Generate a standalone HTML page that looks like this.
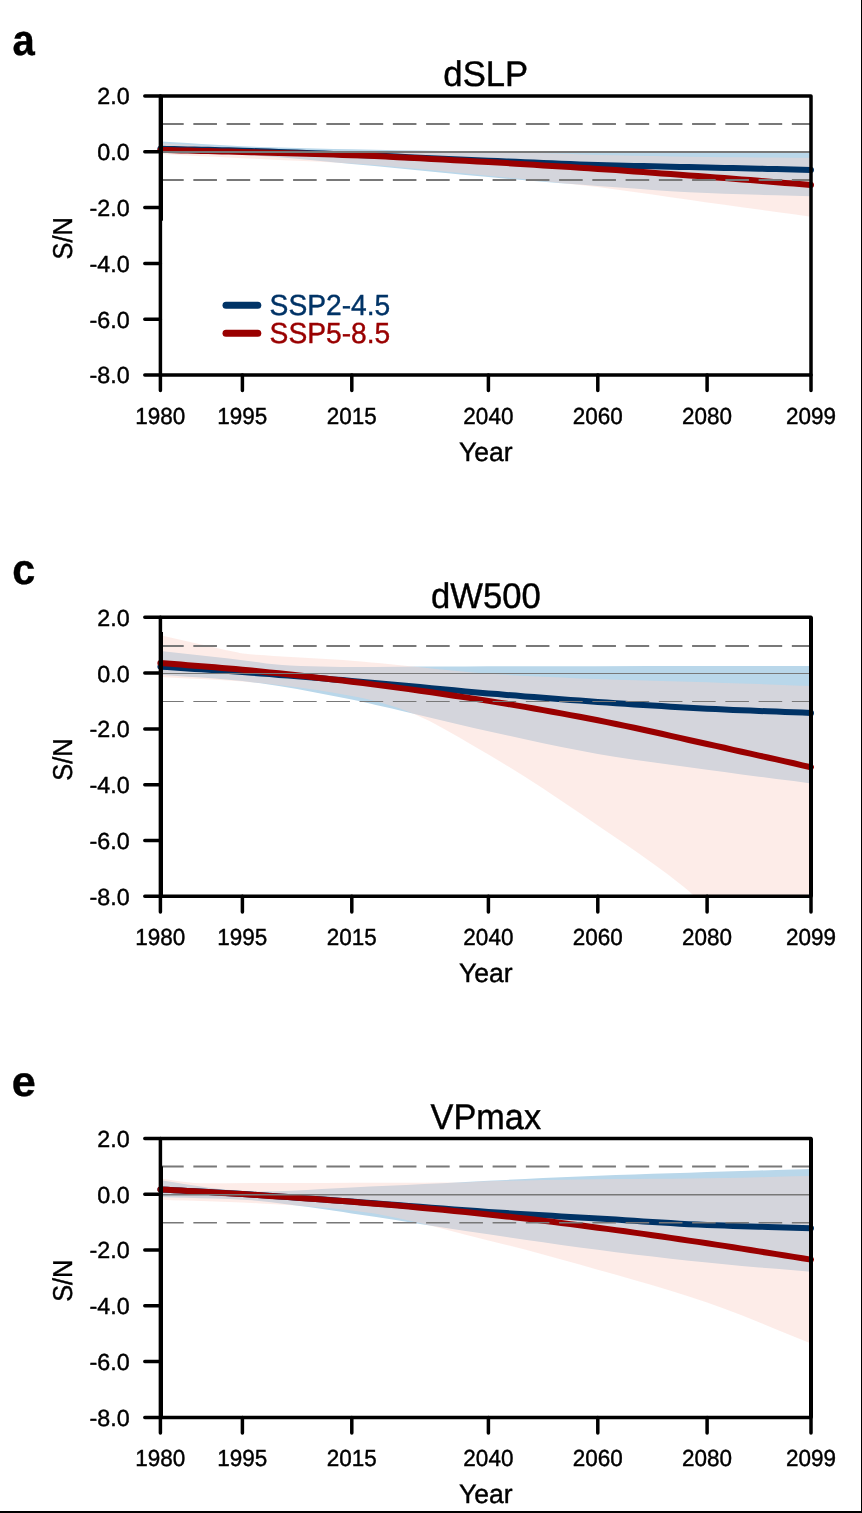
<!DOCTYPE html>
<html lang="en"><head><meta charset="utf-8"><title>S/N time series</title>
<style>
html,body{margin:0;padding:0;background:#fff;}
body{width:862px;height:1513px;overflow:hidden;}
svg{display:block;font-family:"Liberation Sans",sans-serif;will-change:transform;text-rendering:geometricPrecision;}
text{fill:#000;stroke:#000;stroke-width:0.4px;}
</style></head><body>
<svg width="862" height="1513" viewBox="0 0 862 1513">
<rect x="0" y="0" width="862" height="1513" fill="#fff"/>
<g id="panel-a">
<clipPath id="clip0"><rect x="160.4" y="96.0" width="650.6" height="279.0"/></clipPath>
<g clip-path="url(#clip0)">
<polygon points="160.4,141.4 174.1,142.2 187.7,143.1 201.4,144.0 215.1,144.8 228.7,145.6 242.4,146.2 260.6,146.9 278.8,147.5 297.1,148.0 315.3,148.5 333.5,148.9 351.7,149.3 374.5,149.8 397.3,150.2 420.0,150.6 442.8,150.9 465.6,151.2 488.4,151.3 542.2,151.4 595.9,151.5 649.7,151.5 703.5,151.5 757.2,151.6 811.0,151.6 811.0,196.2 793.7,195.7 776.4,195.3 759.0,194.8 741.7,194.3 724.4,193.8 707.1,193.1 688.9,192.2 670.7,191.2 652.5,189.9 634.2,188.6 616.0,187.2 597.8,185.9 579.6,184.6 561.3,183.2 543.1,181.7 524.9,180.2 506.6,178.7 488.4,177.1 465.6,175.0 442.8,172.8 420.0,170.5 397.3,168.2 374.5,166.0 351.7,163.9 333.5,162.2 315.3,160.5 297.1,158.7 278.8,157.2 260.6,155.9 242.4,155.0 228.7,154.6 215.1,154.2 201.4,153.9 187.7,153.6 174.1,153.3 160.4,153.0" fill="#b9d7ea"/>
<polygon points="160.4,143.0 174.1,143.9 187.7,144.8 201.4,145.7 215.1,146.6 228.7,147.4 242.4,148.0 260.6,148.7 278.8,149.3 297.1,149.8 315.3,150.3 333.5,150.7 351.7,151.0 374.5,151.3 397.3,151.5 420.0,151.6 442.8,151.8 465.6,152.0 488.4,152.2 497.8,152.3 507.3,152.5 516.7,152.6 526.1,152.8 535.6,153.0 545.0,153.2 553.8,153.4 562.6,153.7 571.4,154.0 580.2,154.4 589.0,154.7 597.8,154.9 616.0,155.3 634.2,155.8 652.5,156.1 670.7,156.5 688.9,156.8 707.1,157.0 724.4,157.2 741.7,157.3 759.0,157.5 776.4,157.6 793.7,157.7 811.0,157.8 811.0,216.7 793.7,214.3 776.4,211.9 759.0,209.6 741.7,207.2 724.4,204.8 707.1,202.4 688.9,199.8 670.7,197.2 652.5,194.5 634.2,191.9 616.0,189.4 597.8,187.1 579.6,185.0 561.3,183.0 543.1,181.1 524.9,179.3 506.6,177.5 488.4,175.7 465.6,173.5 442.8,171.2 420.0,169.0 397.3,166.9 374.5,165.1 351.7,163.5 333.5,162.4 315.3,161.5 297.1,160.7 278.8,159.9 260.6,159.1 242.4,158.2 228.7,157.5 215.1,156.8 201.4,156.2 187.7,155.5 174.1,154.8 160.4,154.1" fill="rgba(250,210,200,0.42)"/>
</g>
<polyline points="160.4,148.8 167.2,148.9 174.1,149.1 180.9,149.2 187.7,149.4 194.6,149.5 201.4,149.7 208.2,149.8 215.1,150.0 221.9,150.2 228.7,150.3 235.6,150.5 242.4,150.7 251.5,151.0 260.6,151.3 269.7,151.6 278.8,151.9 287.9,152.2 297.1,152.5 306.2,152.9 315.3,153.2 324.4,153.6 333.5,154.0 342.6,154.3 351.7,154.7 363.1,155.2 374.5,155.6 385.9,156.1 397.3,156.6 408.7,157.2 420.0,157.7 431.4,158.2 442.8,158.7 454.2,159.2 465.6,159.7 477.0,160.2 488.4,160.7 497.5,161.1 506.6,161.5 515.8,161.8 524.9,162.2 534.0,162.6 543.1,163.0 552.2,163.3 561.3,163.7 570.4,164.0 579.6,164.4 588.7,164.7 597.8,164.9 606.9,165.2 616.0,165.5 625.1,165.7 634.2,165.9 643.3,166.1 652.5,166.3 661.6,166.5 670.7,166.7 679.8,166.9 688.9,167.1 698.0,167.3 707.1,167.6 715.8,167.7 724.4,167.9 733.1,168.1 741.7,168.3 750.4,168.5 759.0,168.7 767.7,168.9 776.4,169.1 785.0,169.3 793.7,169.5 802.3,169.7 811.0,169.9" fill="none" stroke="#003366" stroke-width="6.0" stroke-linecap="round" stroke-linejoin="round"/>
<polyline points="160.4,149.9 167.2,150.1 174.1,150.3 180.9,150.5 187.7,150.6 194.6,150.8 201.4,151.0 208.2,151.1 215.1,151.3 221.9,151.5 228.7,151.6 235.6,151.8 242.4,152.0 251.5,152.2 260.6,152.5 269.7,152.7 278.8,153.0 287.9,153.2 297.1,153.5 306.2,153.7 315.3,154.0 324.4,154.3 333.5,154.6 342.6,154.9 351.7,155.2 363.1,155.6 374.5,156.1 385.9,156.6 397.3,157.2 408.7,157.7 420.0,158.3 431.4,158.9 442.8,159.6 454.2,160.2 465.6,160.8 477.0,161.5 488.4,162.1 497.5,162.6 506.6,163.1 515.8,163.7 524.9,164.2 534.0,164.8 543.1,165.4 552.2,165.9 561.3,166.5 570.4,167.1 579.6,167.7 588.7,168.3 597.8,168.9 606.9,169.5 616.0,170.1 625.1,170.8 634.2,171.4 643.3,172.1 652.5,172.7 661.6,173.4 670.7,174.1 679.8,174.8 688.9,175.4 698.0,176.1 707.1,176.8 715.8,177.5 724.4,178.1 733.1,178.8 741.7,179.5 750.4,180.1 759.0,180.8 767.7,181.5 776.4,182.2 785.0,182.9 793.7,183.5 802.3,184.2 811.0,184.9" fill="none" stroke="#990000" stroke-width="6.0" stroke-linecap="round" stroke-linejoin="round"/>
<line x1="160.4" x2="811.0" y1="152.0" y2="152.0" stroke="#787878" stroke-width="2.0"/>
<line x1="160.4" x2="811.0" y1="124.0" y2="124.0" stroke="#787878" stroke-width="2.0" stroke-dasharray="23.6 9.65" stroke-dashoffset="0.3"/>
<line x1="160.4" x2="811.0" y1="180.0" y2="180.0" stroke="#787878" stroke-width="2.0" stroke-dasharray="23.6 9.65" stroke-dashoffset="0.3"/>
<rect x="160.4" y="96.0" width="650.6" height="279.0" fill="none" stroke="#000" stroke-width="3.5" stroke-linejoin="round"/>
<line x1="161.6" x2="161.6" y1="96.0" y2="220.7" stroke="#000" stroke-width="2.8"/>
<path d="M160.4 96.0H144.8M160.4 151.8H144.8M160.4 207.6H144.8M160.4 263.4H144.8M160.4 319.2H144.8M160.4 375.0H144.8M160.4 375.0V390.6M242.4 375.0V390.6M351.8 375.0V390.6M488.4 375.0V390.6M597.8 375.0V390.6M707.1 375.0V390.6M811.0 375.0V390.6" fill="none" stroke="#000" stroke-width="3.5" stroke-linecap="round"/>
<text transform="translate(129.70 104.45) scale(1.035 1.03)" font-size="22.5" text-anchor="end">2.0</text>
<text transform="translate(129.70 160.25) scale(1.035 1.03)" font-size="22.5" text-anchor="end">0.0</text>
<text transform="translate(129.70 216.05) scale(1.035 1.03)" font-size="22.5" text-anchor="end">-2.0</text>
<text transform="translate(129.70 271.85) scale(1.035 1.03)" font-size="22.5" text-anchor="end">-4.0</text>
<text transform="translate(129.70 327.65) scale(1.035 1.03)" font-size="22.5" text-anchor="end">-6.0</text>
<text transform="translate(129.70 383.45) scale(1.035 1.03)" font-size="22.5" text-anchor="end">-8.0</text>
<text transform="translate(160.35 423.55) scale(1.0 1.03)" font-size="22.5" text-anchor="middle">1980</text>
<text transform="translate(242.36 423.55) scale(1.0 1.03)" font-size="22.5" text-anchor="middle">1995</text>
<text transform="translate(351.70 423.55) scale(1.0 1.03)" font-size="22.5" text-anchor="middle">2015</text>
<text transform="translate(488.38 423.55) scale(1.0 1.03)" font-size="22.5" text-anchor="middle">2040</text>
<text transform="translate(597.73 423.55) scale(1.0 1.03)" font-size="22.5" text-anchor="middle">2060</text>
<text transform="translate(707.07 423.55) scale(1.0 1.03)" font-size="22.5" text-anchor="middle">2080</text>
<text transform="translate(810.95 423.55) scale(1.0 1.03)" font-size="22.5" text-anchor="middle">2099</text>
<text transform="translate(485.80 460.70) scale(1.02 1.02)" font-size="26" text-anchor="middle">Year</text>
<text transform="translate(72.10 238.30) rotate(-90) scale(0.975 1.05)" font-size="26" text-anchor="middle">S/N</text>
<text transform="translate(485.80 86.00) scale(1.02 1.048)" font-size="34" text-anchor="middle">dSLP</text>
<text transform="translate(12.40 54.60) scale(0.91 0.98)" font-size="44" text-anchor="start" font-weight="bold">a</text>
</g>
<g id="panel-c">
<clipPath id="clip1"><rect x="160.4" y="617.3" width="650.6" height="279.0"/></clipPath>
<g clip-path="url(#clip1)">
<polygon points="160.4,650.9 174.1,652.4 187.7,654.0 201.4,655.5 215.1,657.1 228.7,658.6 242.4,660.2 250.3,661.2 258.3,662.3 266.2,663.4 274.1,664.3 282.1,665.1 290.0,665.6 300.3,666.0 310.6,666.3 320.9,666.5 331.1,666.7 341.4,666.9 351.7,666.9 374.5,666.9 397.3,666.8 420.0,666.6 442.8,666.5 465.6,666.4 488.4,666.3 542.2,666.2 595.9,666.2 649.7,666.1 703.5,666.1 757.2,666.0 811.0,666.0 811.0,783.4 793.7,781.1 776.4,778.9 759.0,776.7 741.7,774.4 724.4,772.1 707.1,769.8 688.9,767.3 670.7,764.8 652.5,762.3 634.2,759.7 616.0,756.9 597.8,753.9 579.6,750.6 561.3,747.1 543.1,743.3 524.9,739.3 506.6,735.3 488.4,731.3 473.7,728.0 458.9,724.5 444.2,721.0 429.5,717.5 414.7,713.9 400.0,710.5 391.9,708.6 383.9,706.7 375.9,704.9 367.8,703.0 359.8,701.3 351.7,699.6 333.5,696.0 315.3,692.4 297.1,689.0 278.8,685.9 260.6,683.2 242.4,681.0 228.7,679.7 215.1,678.6 201.4,677.6 187.7,676.7 174.1,675.8 160.4,674.8" fill="#b9d7ea"/>
<polygon points="160.4,635.3 167.0,636.8 173.6,638.3 180.2,639.8 186.8,641.2 193.4,642.7 200.0,644.2 206.3,645.6 212.7,647.1 219.0,648.5 225.3,650.0 231.7,651.3 238.0,652.6 238.7,652.7 239.5,652.9 240.2,653.0 240.9,653.2 241.7,653.3 242.4,653.4 243.2,653.5 243.9,653.6 244.7,653.7 245.5,653.8 246.2,653.8 247.0,653.9 255.8,654.7 264.7,655.3 273.5,655.9 282.3,656.5 291.2,657.0 300.0,657.6 308.6,658.1 317.2,658.6 325.9,659.1 334.5,659.6 343.1,660.1 351.7,660.7 361.4,661.5 371.1,662.4 380.9,663.3 390.6,664.3 400.3,665.3 410.0,666.3 423.1,667.6 436.1,668.9 449.2,670.3 462.3,671.6 475.3,672.7 488.4,673.7 506.6,674.8 524.9,675.9 543.1,676.8 561.3,677.6 579.6,678.4 597.8,679.1 616.0,679.7 634.2,680.3 652.5,680.8 670.7,681.2 688.9,681.7 707.1,682.3 724.4,682.9 741.7,683.5 759.0,684.1 776.4,684.7 793.7,685.4 811.0,686.0 811.0,1000.0 795.8,986.7 780.7,973.5 765.5,960.3 750.3,947.0 735.2,933.6 720.0,920.0 715.3,915.7 710.7,911.3 706.0,906.9 701.3,902.5 696.7,898.2 692.0,894.0 690.3,892.5 688.7,891.1 687.0,889.6 685.3,888.2 683.7,886.8 682.0,885.5 668.0,874.6 653.9,864.3 639.9,854.3 625.9,844.6 611.8,835.0 597.8,825.5 579.6,813.1 561.3,800.8 543.1,788.6 524.9,776.8 506.6,765.4 488.4,754.6 473.7,746.0 458.9,737.3 444.2,728.9 429.5,721.1 414.7,714.2 400.0,708.5 391.9,705.9 383.9,703.5 375.9,701.3 367.8,699.3 359.8,697.5 351.7,695.9 333.5,692.7 315.3,689.8 297.1,687.2 278.8,685.0 260.6,683.1 242.4,681.5 228.7,680.5 215.1,679.7 201.4,679.0 187.7,678.4 174.1,677.7 160.4,677.0" fill="rgba(250,210,200,0.42)"/>
</g>
<polyline points="160.4,666.7 167.2,667.1 174.1,667.6 180.9,668.0 187.7,668.5 194.6,668.9 201.4,669.3 208.2,669.8 215.1,670.2 221.9,670.7 228.7,671.1 235.6,671.6 242.4,672.1 251.5,672.8 260.6,673.4 269.7,674.1 278.8,674.9 287.9,675.6 297.1,676.3 306.2,677.1 315.3,677.8 324.4,678.6 333.5,679.4 342.6,680.1 351.7,680.9 363.1,681.9 374.5,682.9 385.9,683.9 397.3,685.0 408.7,686.1 420.0,687.1 431.4,688.2 442.8,689.3 454.2,690.3 465.6,691.4 477.0,692.4 488.4,693.4 497.5,694.1 506.6,694.9 515.8,695.6 524.9,696.4 534.0,697.1 543.1,697.8 552.2,698.5 561.3,699.2 570.4,699.9 579.6,700.6 588.7,701.3 597.8,701.9 606.9,702.5 616.0,703.2 625.1,703.8 634.2,704.4 643.3,705.0 652.5,705.6 661.6,706.1 670.7,706.7 679.8,707.2 688.9,707.7 698.0,708.2 707.1,708.7 715.8,709.1 724.4,709.5 733.1,709.9 741.7,710.3 750.4,710.6 759.0,711.0 767.7,711.3 776.4,711.6 785.0,712.0 793.7,712.3 802.3,712.6 811.0,713.0" fill="none" stroke="#003366" stroke-width="6.0" stroke-linecap="round" stroke-linejoin="round"/>
<polyline points="160.4,663.0 167.2,663.6 174.1,664.1 180.9,664.6 187.7,665.2 194.6,665.7 201.4,666.2 208.2,666.8 215.1,667.3 221.9,667.9 228.7,668.5 235.6,669.1 242.4,669.7 251.5,670.6 260.6,671.5 269.7,672.4 278.8,673.3 287.9,674.3 297.1,675.3 306.2,676.3 315.3,677.4 324.4,678.4 333.5,679.5 342.6,680.6 351.7,681.7 363.1,683.1 374.5,684.6 385.9,686.0 397.3,687.6 408.7,689.1 420.0,690.7 431.4,692.3 442.8,694.0 454.2,695.7 465.6,697.4 477.0,699.1 488.4,700.9 497.5,702.4 506.6,703.8 515.8,705.4 524.9,706.9 534.0,708.5 543.1,710.1 552.2,711.7 561.3,713.4 570.4,715.1 579.6,716.8 588.7,718.5 597.8,720.3 606.9,722.1 616.0,724.0 625.1,725.9 634.2,727.8 643.3,729.8 652.5,731.8 661.6,733.8 670.7,735.9 679.8,737.9 688.9,740.0 698.0,742.0 707.1,744.0 715.8,745.9 724.4,747.8 733.1,749.8 741.7,751.7 750.4,753.6 759.0,755.6 767.7,757.5 776.4,759.4 785.0,761.4 793.7,763.3 802.3,765.3 811.0,767.2" fill="none" stroke="#990000" stroke-width="6.0" stroke-linecap="round" stroke-linejoin="round"/>
<line x1="160.4" x2="811.0" y1="673.5" y2="673.5" stroke="#787878" stroke-width="1.0"/>
<line x1="160.4" x2="811.0" y1="646.0" y2="646.0" stroke="#787878" stroke-width="2.0" stroke-dasharray="23.6 9.65" stroke-dashoffset="0.3"/>
<line x1="160.4" x2="811.0" y1="701.5" y2="701.5" stroke="#787878" stroke-width="1.0" stroke-dasharray="23.6 9.65" stroke-dashoffset="0.3"/>
<rect x="160.4" y="617.3" width="650.6" height="279.0" fill="none" stroke="#000" stroke-width="3.5" stroke-linejoin="round"/>
<line x1="161.6" x2="161.6" y1="632.0" y2="896.3" stroke="#000" stroke-width="2.8"/>
<line x1="811" x2="811" y1="617.3" y2="896.3" stroke="#000" stroke-width="4"/>
<path d="M160.4 617.3H144.8M160.4 673.1H144.8M160.4 728.9H144.8M160.4 784.7H144.8M160.4 840.5H144.8M160.4 896.3H144.8M160.4 896.3V911.9M242.4 896.3V911.9M351.8 896.3V911.9M488.4 896.3V911.9M597.8 896.3V911.9M707.1 896.3V911.9M811.0 896.3V911.9" fill="none" stroke="#000" stroke-width="3.5" stroke-linecap="round"/>
<text transform="translate(129.70 625.75) scale(1.035 1.03)" font-size="22.5" text-anchor="end">2.0</text>
<text transform="translate(129.70 681.55) scale(1.035 1.03)" font-size="22.5" text-anchor="end">0.0</text>
<text transform="translate(129.70 737.35) scale(1.035 1.03)" font-size="22.5" text-anchor="end">-2.0</text>
<text transform="translate(129.70 793.15) scale(1.035 1.03)" font-size="22.5" text-anchor="end">-4.0</text>
<text transform="translate(129.70 848.95) scale(1.035 1.03)" font-size="22.5" text-anchor="end">-6.0</text>
<text transform="translate(129.70 904.75) scale(1.035 1.03)" font-size="22.5" text-anchor="end">-8.0</text>
<text transform="translate(160.35 944.85) scale(1.0 1.03)" font-size="22.5" text-anchor="middle">1980</text>
<text transform="translate(242.36 944.85) scale(1.0 1.03)" font-size="22.5" text-anchor="middle">1995</text>
<text transform="translate(351.70 944.85) scale(1.0 1.03)" font-size="22.5" text-anchor="middle">2015</text>
<text transform="translate(488.38 944.85) scale(1.0 1.03)" font-size="22.5" text-anchor="middle">2040</text>
<text transform="translate(597.73 944.85) scale(1.0 1.03)" font-size="22.5" text-anchor="middle">2060</text>
<text transform="translate(707.07 944.85) scale(1.0 1.03)" font-size="22.5" text-anchor="middle">2080</text>
<text transform="translate(810.95 944.85) scale(1.0 1.03)" font-size="22.5" text-anchor="middle">2099</text>
<text transform="translate(485.80 982.00) scale(1.02 1.02)" font-size="26" text-anchor="middle">Year</text>
<text transform="translate(72.10 759.60) rotate(-90) scale(0.975 1.05)" font-size="26" text-anchor="middle">S/N</text>
<text transform="translate(485.80 607.70) scale(1.019 1.048)" font-size="34" text-anchor="middle">dW500</text>
<text transform="translate(12.30 584.10) scale(0.94 0.97)" font-size="44" text-anchor="start" font-weight="bold">c</text>
</g>
<g id="panel-e">
<clipPath id="clip2"><rect x="160.4" y="1138.4" width="650.6" height="279.0"/></clipPath>
<g clip-path="url(#clip2)">
<polygon points="160.4,1180.3 172.2,1182.0 183.9,1183.9 195.7,1185.8 207.5,1187.5 219.2,1189.0 231.0,1190.0 236.2,1190.4 241.3,1190.7 246.5,1191.0 251.7,1191.3 256.8,1191.4 262.0,1191.5 276.9,1191.3 291.9,1190.7 306.9,1190.0 321.8,1189.1 336.8,1188.2 351.7,1187.4 369.9,1186.6 388.1,1185.7 406.4,1184.9 424.6,1184.1 442.8,1183.2 461.0,1182.3 465.6,1182.1 470.1,1181.8 474.7,1181.6 479.3,1181.3 483.8,1181.1 488.4,1180.8 506.6,1179.9 524.9,1179.0 543.1,1178.1 561.3,1177.3 579.6,1176.4 597.8,1175.7 616.0,1175.0 634.2,1174.4 652.5,1173.8 670.7,1173.2 688.9,1172.7 707.1,1172.1 724.4,1171.6 741.7,1171.0 759.0,1170.5 776.4,1170.0 793.7,1169.4 811.0,1168.9 811.0,1271.8 793.7,1270.3 776.4,1268.8 759.0,1267.4 741.7,1265.9 724.4,1264.3 707.1,1262.6 688.9,1260.7 670.7,1258.7 652.5,1256.6 634.2,1254.4 616.0,1252.2 597.8,1249.8 579.6,1247.4 561.3,1244.9 543.1,1242.3 524.9,1239.7 506.6,1237.0 488.4,1234.3 465.6,1230.9 442.8,1227.4 420.0,1223.9 397.3,1220.3 374.5,1216.8 351.7,1213.4 343.1,1212.1 334.5,1210.8 325.9,1209.6 317.2,1208.3 308.6,1207.1 300.0,1206.0 290.4,1204.8 280.8,1203.5 271.2,1202.3 261.6,1201.2 252.0,1200.3 242.4,1199.7 228.7,1199.1 215.1,1198.6 201.4,1198.2 187.7,1197.8 174.1,1197.4 160.4,1197.0" fill="#b9d7ea"/>
<polygon points="160.4,1178.5 167.2,1179.4 173.9,1180.4 180.7,1181.4 187.5,1182.3 194.2,1183.0 201.0,1183.2 226.1,1183.2 251.2,1183.1 276.4,1183.1 301.5,1183.0 326.6,1182.9 351.7,1182.8 369.9,1182.8 388.1,1182.7 406.4,1182.7 424.6,1182.7 442.8,1182.6 461.0,1182.5 465.6,1182.4 470.1,1182.2 474.7,1181.9 479.3,1181.6 483.8,1181.4 488.4,1181.2 506.6,1180.7 524.9,1180.4 543.1,1180.0 561.3,1179.8 579.6,1179.5 597.8,1179.3 616.0,1179.1 634.2,1179.0 652.5,1178.8 670.7,1178.7 688.9,1178.5 707.1,1178.3 724.4,1178.0 741.7,1177.7 759.0,1177.2 776.4,1176.8 793.7,1176.3 811.0,1175.9 811.0,1343.5 793.7,1336.5 776.4,1329.4 759.0,1322.3 741.7,1315.3 724.4,1308.7 707.1,1302.5 688.9,1296.5 670.7,1290.8 652.5,1285.3 634.2,1280.0 616.0,1274.8 597.8,1269.7 579.6,1264.6 561.3,1259.5 543.1,1254.5 524.9,1249.6 506.6,1244.9 488.4,1240.4 465.6,1234.7 442.8,1228.8 420.0,1223.1 397.3,1217.9 374.5,1213.5 351.7,1210.4 333.5,1208.6 315.3,1207.0 297.1,1205.6 278.8,1204.4 260.6,1203.4 242.4,1202.5 228.7,1201.9 215.1,1201.5 201.4,1201.0 187.7,1200.6 174.1,1200.2 160.4,1199.8" fill="rgba(250,210,200,0.42)"/>
</g>
<polyline points="160.4,1189.4 167.2,1189.8 174.1,1190.2 180.9,1190.5 187.7,1190.9 194.6,1191.3 201.4,1191.6 208.2,1192.0 215.1,1192.4 221.9,1192.8 228.7,1193.2 235.6,1193.6 242.4,1194.0 251.5,1194.6 260.6,1195.2 269.7,1195.8 278.8,1196.4 287.9,1197.0 297.1,1197.7 306.2,1198.3 315.3,1199.0 324.4,1199.6 333.5,1200.3 342.6,1200.9 351.7,1201.6 363.1,1202.4 374.5,1203.3 385.9,1204.2 397.3,1205.1 408.7,1206.0 420.0,1206.8 431.4,1207.7 442.8,1208.6 454.2,1209.5 465.6,1210.3 477.0,1211.1 488.4,1211.9 497.5,1212.5 506.6,1213.1 515.8,1213.7 524.9,1214.2 534.0,1214.8 543.1,1215.3 552.2,1215.8 561.3,1216.4 570.4,1216.9 579.6,1217.4 588.7,1218.0 597.8,1218.5 606.9,1219.1 616.0,1219.6 625.1,1220.2 634.2,1220.8 643.3,1221.4 652.5,1222.0 661.6,1222.6 670.7,1223.1 679.8,1223.7 688.9,1224.2 698.0,1224.6 707.1,1225.0 715.8,1225.3 724.4,1225.6 733.1,1225.9 741.7,1226.2 750.4,1226.5 759.0,1226.7 767.7,1227.0 776.4,1227.2 785.0,1227.4 793.7,1227.7 802.3,1227.9 811.0,1228.2" fill="none" stroke="#003366" stroke-width="6.0" stroke-linecap="round" stroke-linejoin="round"/>
<polyline points="160.4,1189.4 167.2,1189.8 174.1,1190.2 180.9,1190.6 187.7,1190.9 194.6,1191.3 201.4,1191.7 208.2,1192.1 215.1,1192.5 221.9,1192.9 228.7,1193.3 235.6,1193.7 242.4,1194.1 251.5,1194.7 260.6,1195.3 269.7,1195.9 278.8,1196.5 287.9,1197.1 297.1,1197.7 306.2,1198.4 315.3,1199.0 324.4,1199.7 333.5,1200.4 342.6,1201.1 351.7,1201.8 363.1,1202.7 374.5,1203.7 385.9,1204.6 397.3,1205.6 408.7,1206.6 420.0,1207.7 431.4,1208.7 442.8,1209.8 454.2,1210.9 465.6,1212.1 477.0,1213.2 488.4,1214.4 497.5,1215.4 506.6,1216.4 515.8,1217.4 524.9,1218.5 534.0,1219.6 543.1,1220.7 552.2,1221.8 561.3,1222.9 570.4,1224.1 579.6,1225.3 588.7,1226.5 597.8,1227.7 606.9,1228.9 616.0,1230.1 625.1,1231.3 634.2,1232.6 643.3,1233.9 652.5,1235.2 661.6,1236.5 670.7,1237.9 679.8,1239.2 688.9,1240.6 698.0,1241.9 707.1,1243.3 715.8,1244.6 724.4,1245.9 733.1,1247.3 741.7,1248.6 750.4,1250.0 759.0,1251.4 767.7,1252.7 776.4,1254.1 785.0,1255.5 793.7,1256.9 802.3,1258.2 811.0,1259.6" fill="none" stroke="#990000" stroke-width="6.0" stroke-linecap="round" stroke-linejoin="round"/>
<line x1="160.4" x2="811.0" y1="1194.7" y2="1194.7" stroke="#787878" stroke-width="1.4"/>
<line x1="160.4" x2="811.0" y1="1166.5" y2="1166.5" stroke="#787878" stroke-width="2.0" stroke-dasharray="23.6 9.65" stroke-dashoffset="0.3"/>
<line x1="160.4" x2="811.0" y1="1222.8" y2="1222.8" stroke="#787878" stroke-width="1.6" stroke-dasharray="23.6 9.65" stroke-dashoffset="0.3"/>
<rect x="160.4" y="1138.4" width="650.6" height="279.0" fill="none" stroke="#000" stroke-width="3.5" stroke-linejoin="round"/>
<line x1="161.6" x2="161.6" y1="1166.4" y2="1417.4" stroke="#000" stroke-width="2.8"/>
<line x1="811" x2="811" y1="1138.4" y2="1417.4" stroke="#000" stroke-width="4"/>
<path d="M160.4 1138.4H144.8M160.4 1194.2H144.8M160.4 1250.0H144.8M160.4 1305.8H144.8M160.4 1361.6H144.8M160.4 1417.4H144.8M160.4 1417.4V1433.0M242.4 1417.4V1433.0M351.8 1417.4V1433.0M488.4 1417.4V1433.0M597.8 1417.4V1433.0M707.1 1417.4V1433.0M811.0 1417.4V1433.0" fill="none" stroke="#000" stroke-width="3.5" stroke-linecap="round"/>
<text transform="translate(129.70 1146.85) scale(1.035 1.03)" font-size="22.5" text-anchor="end">2.0</text>
<text transform="translate(129.70 1202.65) scale(1.035 1.03)" font-size="22.5" text-anchor="end">0.0</text>
<text transform="translate(129.70 1258.45) scale(1.035 1.03)" font-size="22.5" text-anchor="end">-2.0</text>
<text transform="translate(129.70 1314.25) scale(1.035 1.03)" font-size="22.5" text-anchor="end">-4.0</text>
<text transform="translate(129.70 1370.05) scale(1.035 1.03)" font-size="22.5" text-anchor="end">-6.0</text>
<text transform="translate(129.70 1425.85) scale(1.035 1.03)" font-size="22.5" text-anchor="end">-8.0</text>
<text transform="translate(160.35 1465.95) scale(1.0 1.03)" font-size="22.5" text-anchor="middle">1980</text>
<text transform="translate(242.36 1465.95) scale(1.0 1.03)" font-size="22.5" text-anchor="middle">1995</text>
<text transform="translate(351.70 1465.95) scale(1.0 1.03)" font-size="22.5" text-anchor="middle">2015</text>
<text transform="translate(488.38 1465.95) scale(1.0 1.03)" font-size="22.5" text-anchor="middle">2040</text>
<text transform="translate(597.73 1465.95) scale(1.0 1.03)" font-size="22.5" text-anchor="middle">2060</text>
<text transform="translate(707.07 1465.95) scale(1.0 1.03)" font-size="22.5" text-anchor="middle">2080</text>
<text transform="translate(810.95 1465.95) scale(1.0 1.03)" font-size="22.5" text-anchor="middle">2099</text>
<text transform="translate(485.80 1503.10) scale(1.02 1.02)" font-size="26" text-anchor="middle">Year</text>
<text transform="translate(72.10 1280.70) rotate(-90) scale(0.975 1.05)" font-size="26" text-anchor="middle">S/N</text>
<text transform="translate(485.80 1128.90) scale(1.008 1.048)" font-size="34" text-anchor="middle">VPmax</text>
<text transform="translate(11.80 1095.50) scale(0.98 0.96)" font-size="44" text-anchor="start" font-weight="bold">e</text>
</g>
<g id="legend">
<line x1="226" x2="257.8" y1="305.3" y2="305.3" stroke="#003366" stroke-width="7" stroke-linecap="round"/>
<line x1="226" x2="257.8" y1="333.2" y2="333.2" stroke="#990000" stroke-width="7" stroke-linecap="round"/>
<text transform="translate(269.60 315.30) scale(1.025 1.06)" font-size="27.5" text-anchor="start" style="fill:#003366;stroke:#003366">SSP2-4.5</text>
<text transform="translate(269.60 342.80) scale(1.025 1.06)" font-size="27.5" text-anchor="start" style="fill:#990000;stroke:#990000">SSP5-8.5</text>
</g>
<rect x="861" y="0" width="1" height="1513" fill="#000"/>
<rect x="0" y="1511" width="862" height="2" fill="#000"/>
</svg></body></html>
